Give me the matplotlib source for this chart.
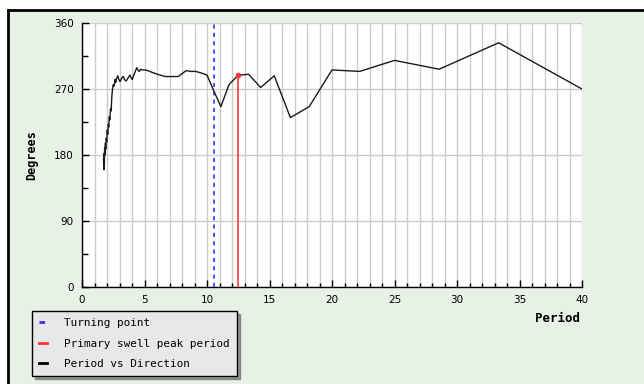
import matplotlib
matplotlib.use("Agg")
import matplotlib.pyplot as plt
from matplotlib.patches import Rectangle
from matplotlib.lines import Line2D
from matplotlib.ticker import MultipleLocator

# Period (s) vs mean direction (deg)
periods = [1.72, 1.75, 1.77, 1.79, 1.81, 1.84, 1.87, 1.90, 1.94, 1.98,
           2.02, 2.06, 2.10, 2.14, 2.18, 2.23, 2.28, 2.33, 2.38, 2.44,
           2.50, 2.57, 2.64, 2.71, 2.78, 2.86, 2.95, 3.04, 3.13, 3.22,
           3.30, 3.40, 3.50, 3.58, 3.68, 3.76, 3.84, 3.93, 4.02, 4.12,
           4.24, 4.38, 4.50, 4.58, 4.70, 4.82, 5.04, 5.26, 5.56, 5.88,
           6.25, 6.67, 7.14, 7.69, 8.33, 8.70, 9.09, 9.52, 10.0, 10.53,
           11.11, 11.76, 12.5, 13.33, 14.29, 15.38, 16.67, 18.18, 20.0,
           22.22, 25.0, 28.57, 33.33, 40.0]
directions = [175, 160, 182, 168, 190, 180, 196, 188, 203, 198,
              214, 208, 222, 218, 232, 228, 243, 240, 258, 270,
              276, 274, 283, 279, 285, 288, 283, 280, 283, 286,
              287, 283, 281, 282, 285, 287, 289, 285, 283, 288,
              293, 299, 295, 294, 297, 296, 296, 295, 293, 291,
              289, 287, 287, 287, 295, 294, 294, 292, 289, 268,
              246, 276, 289, 290, 272, 288, 231, 246, 296,
              294, 309, 297, 333, 270]

turning_point = 10.53
peak_period = 12.5
peak_direction = 289

x_ticks = [0, 5, 10, 15, 20, 25, 30, 35, 40]
y_ticks = [0, 90, 180, 270, 360]

W, H = 644, 384
fig = plt.figure(figsize=(W / 100, H / 100), dpi=100)
fig.patch.set_facecolor("white")

# framed panel background
fig.patches.append(Rectangle((8 / W, -0.05), 1.2, 1 - 9.5 / H + 0.05,
                             transform=fig.transFigure, facecolor="#e7f1e5",
                             edgecolor="black", linewidth=2, zorder=-10))

ax = fig.add_axes([82 / W, (H - 287) / H, 500 / W, 264 / H])
ax.set_facecolor("white")
ax.set_xlim(0, 40)
ax.set_ylim(0, 360)

ax.xaxis.set_minor_locator(MultipleLocator(1))
ax.yaxis.set_minor_locator(MultipleLocator(45))
ax.set_xticks(x_ticks)
ax.set_yticks(y_ticks)

ax.grid(True, which="minor", axis="x", color="#cccccc", linewidth=1)
ax.grid(True, which="major", axis="x", color="#cccccc", linewidth=1)
ax.grid(True, which="major", axis="y", color="#cccccc", linewidth=1)
ax.set_axisbelow(True)

for s in ("top", "right"):
    ax.spines[s].set_visible(False)
for s in ("left", "bottom"):
    ax.spines[s].set_color("black")
    ax.spines[s].set_linewidth(1)

ax.tick_params(which="major", direction="in", length=5, width=1, color="black",
               labelsize=7.5, pad=6)
ax.tick_params(which="minor", direction="in", length=3, width=1, color="black")
ax.tick_params(axis="y", which="minor", length=4)
for lab in ax.get_xticklabels() + ax.get_yticklabels():
    lab.set_family("DejaVu Sans")

ax.axvline(turning_point, color="#3333ff", linewidth=1.2,
           linestyle=(0, (2.5, 2.5)), zorder=3)
ax.plot([peak_period, peak_period], [0, peak_direction], color="#ff3333",
        linewidth=1.2, zorder=3)
ax.plot([peak_period], [peak_direction], marker="o", markersize=3,
        color="#ff3333", zorder=5)
ax.plot(periods, directions, color="#1a1a1a", linewidth=1, zorder=4)

fig.text(32 / W, 1 - 155 / H, "Degrees", rotation=90, ha="center", va="center",
         family="DejaVu Sans Mono", fontweight="bold", fontsize=8.5)
fig.text(580 / W, 1 - 318 / H, "Period", ha="right", va="center",
         family="DejaVu Sans Mono", fontweight="bold", fontsize=9)

handles = [
    Line2D([], [], color="#3333ff", linewidth=2, linestyle=(0, (2, 2))),
    Line2D([], [], color="#ff3333", linewidth=2),
    Line2D([], [], color="black", linewidth=2),
]
labels = ["Turning point", "Primary swell peak period", "Period vs Direction"]
leg = fig.legend(handles, labels, loc="upper left",
                 bbox_to_anchor=(32 / W, 1 - 311 / H),
                 prop={"family": "DejaVu Sans Mono", "size": 7.9},
                 handlelength=0.7, handletextpad=1.6, labelspacing=0.95,
                 borderpad=0.65, borderaxespad=0, fancybox=False, shadow=True,
                 framealpha=1)
leg.get_frame().set_facecolor("#e8e8e8")
leg.get_frame().set_edgecolor("black")
leg.get_frame().set_linewidth(1)

fig.savefig("out.png", dpi=100)
